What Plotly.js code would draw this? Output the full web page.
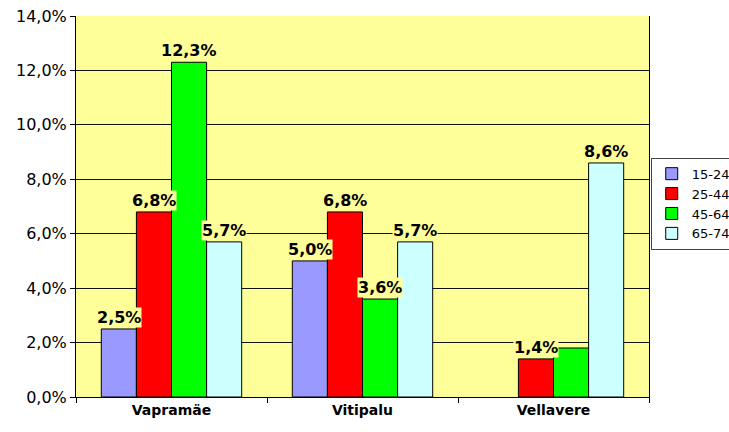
<!DOCTYPE html>
<html><head><meta charset="utf-8">
<script src="https://cdn.plot.ly/plotly-3.0.1.min.js"></script>
<style>body{margin:0;padding:0;background:#fff}</style>
</head><body>
<div id="chart" style="width:729px;height:432px"></div>
<script>
var categories = ['Vapramäe', 'Vitipalu', 'Vellavere'];
var seriesNames = ['15-24', '25-44', '45-64', '65-74'];
var s1524 = [2.5, 5.0, null];
var s2544 = [6.8, 6.8, 1.4];
var s4564 = [12.3, 3.6, 1.8];
var s6574 = [5.7, 5.7, 8.6];
var labelShow = [
  [true, true, false],
  [true, true, true],
  [true, true, false],
  [true, true, true]
];
var colors = ['#9999FF', '#FF0000', '#00FF00', '#CCFFFF'];
var allSeries = [s1524, s2544, s4564, s6574];

var traces = allSeries.map(function(v, i){
  return {
    type: 'bar', name: seriesNames[i], x: categories, y: v,
    marker: {color: colors[i], line: {color: '#000', width: 1}},
    hoverinfo: 'none'
  };
});

var barPx = 35;
var annotations = [];
allSeries.forEach(function(v, i){
  v.forEach(function(val, j){
    if (!labelShow[i][j] || val === null) return;
    annotations.push({
      x: categories[j], y: val, xref: 'x', yref: 'y',
      text: val.toFixed(1).replace('.', ',') + '%',
      showarrow: false, yanchor: 'bottom', yshift: 1,
      xshift: (i - 1.5) * barPx,
      bgcolor: '#FFFF99', borderpad: 0,
      font: {family: 'DejaVu Sans', size: 16, color: '#000', weight: 'bold'}
    });
  });
});

var layout = {
  width: 729, height: 432,
  margin: {l: 76, r: 80, t: 16, b: 35, autoexpand: false},
  paper_bgcolor: '#FFFFFF', plot_bgcolor: '#FFFF99',
  separators: ',.',
  barmode: 'group', bargap: 0.265, bargroupgap: 0,
  font: {family: 'DejaVu Sans', size: 13, color: '#000'},
  xaxis: {
    tickson: 'boundaries', ticks: 'outside', ticklen: 5, tickcolor: '#000',
    showline: true, linecolor: '#000', linewidth: 1,
    tickfont: {family: 'DejaVu Sans', size: 14, weight: 'bold'},
    showgrid: false, fixedrange: true, automargin: false
  },
  yaxis: {
    range: [0, 14], dtick: 2, tickformat: '.1f', ticksuffix: '%',
    ticks: 'outside', ticklen: 5, tickcolor: '#000',
    showline: true, linecolor: '#000', linewidth: 1, mirror: true,
    gridcolor: '#111', gridwidth: 1, zeroline: false, automargin: false,
    tickfont: {family: 'DejaVu Sans', size: 16}
  },
  legend: {
    x: 1.003, xanchor: 'left', y: 0.628, yanchor: 'top',
    bordercolor: '#444', borderwidth: 1, bgcolor: '#fff',
    font: {family: 'DejaVu Sans', size: 13}, tracegroupgap: 0,
    itemwidth: 30
  },
  showlegend: true,
  annotations: annotations
};

Plotly.newPlot('chart', traces, layout, {displayModeBar: false, staticPlot: true});
</script>
</body></html>
